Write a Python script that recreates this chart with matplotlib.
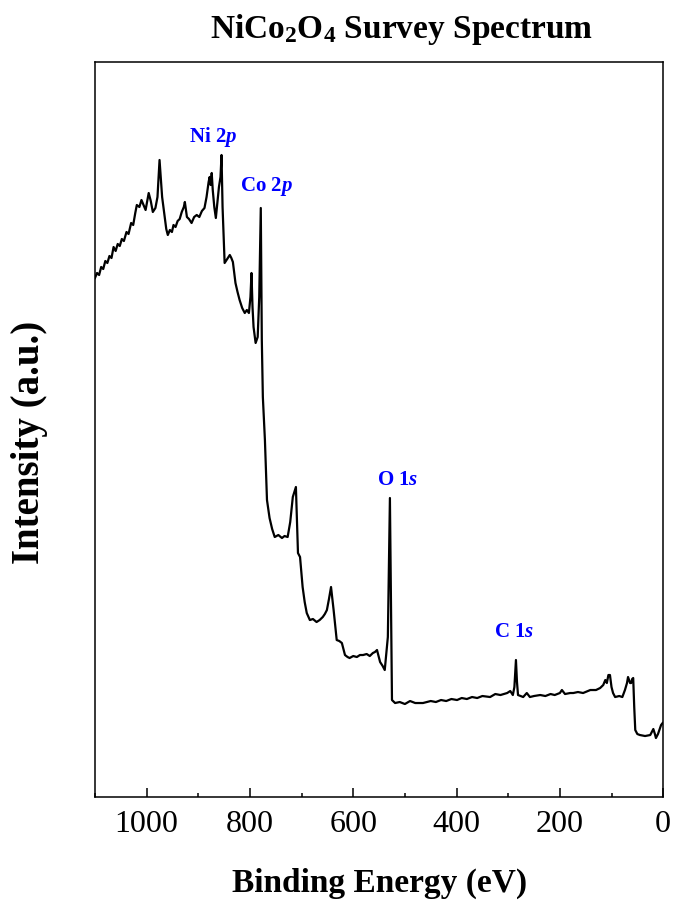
import matplotlib
matplotlib.use("Agg")
import matplotlib.pyplot as plt
from matplotlib.ticker import MultipleLocator

plt.rcParams["font.family"] = ["Liberation Serif", "DejaVu Serif"]
plt.rcParams["mathtext.fontset"] = "custom"
plt.rcParams["mathtext.rm"] = "Liberation Serif:bold"
plt.rcParams["mathtext.bf"] = "Liberation Serif:bold"
plt.rcParams["mathtext.it"] = "Liberation Serif:bold:italic"

# Survey spectrum: binding energy (eV) and intensity (a.u.)
binding_energy = [
    1100, 1096, 1092, 1088, 1084, 1080, 1076, 1072, 1068, 1064, 1060, 1056,
    1052, 1048, 1044, 1039, 1035, 1030, 1026, 1022, 1019, 1014, 1010, 1006,
    1002, 996, 992, 988, 983, 979, 975, 970, 965, 962, 959, 955, 951, 948,
    944, 940, 936, 932, 928, 926, 922, 918, 913, 908, 903, 898, 893, 888, 884,
    880, 878, 876, 874, 872, 869, 866, 863, 860, 857, 855, 853, 849, 844, 839,
    836, 833, 828, 824, 820, 815, 810, 806, 802, 799, 797, 795, 793, 789, 785,
    782, 779, 777, 775, 771, 767, 762, 757, 752, 745, 738, 733, 727, 722, 717,
    711, 707, 703, 698, 694, 690, 684, 678, 671, 665, 659, 655, 651, 647, 643,
    638, 632, 627, 622, 616, 611, 607, 600, 593, 587, 581, 574, 568, 562, 558,
    554, 548, 543, 539, 533, 529, 527, 525, 519, 510, 500, 490, 480, 465, 450,
    440, 430, 420, 410, 399, 390, 380, 370, 360, 350, 335, 325, 315, 302, 296,
    291, 288, 285, 283, 281, 276, 271, 264, 258, 250, 238, 228, 218, 210, 200,
    196, 190, 180, 174, 165, 155, 141, 130, 122, 116, 112, 109, 106, 103, 100,
    97, 93, 85, 79, 74, 70, 68, 64, 62, 60, 58, 56, 54, 50, 45, 35, 25, 21, 19,
    16, 14, 10, 4, 1,
]
intensity = [
    519, 524, 522, 530, 528, 536, 534, 541, 539, 550, 546, 553,
    551, 558, 556, 565, 563, 574, 572, 584, 592, 590, 597, 592,
    587, 604, 596, 585, 589, 600, 637, 600, 580, 568, 562, 567, 565, 572,
    570, 576, 578, 585, 590, 595, 580, 578, 574, 580, 582, 580, 586, 589, 600,
    615, 620, 612, 624, 607, 590, 579, 595, 610, 620, 642, 590, 534, 538, 542,
    539, 535, 514, 505, 497, 489, 484, 487, 484, 500, 524, 490, 470, 454, 460,
    500, 589, 457, 400, 357, 297, 279, 268, 260, 262, 259, 261, 260, 275, 300,
    310, 244, 240, 210, 195, 184, 177, 178, 175, 177, 180, 183, 187, 198, 210,
    187, 157, 156, 154, 142, 140, 139, 141, 140, 142, 142, 143, 141, 144, 145,
    147, 135, 131, 127, 160, 299, 194, 97, 94, 95, 93, 96, 94, 94, 96,
    95, 97, 96, 98, 97, 99, 98, 100, 99, 101, 100, 103, 102, 104, 106,
    102, 110, 137, 115, 102, 101, 100, 104, 100, 101, 102, 101, 103, 102, 104,
    107, 103, 104, 104, 105, 104, 107, 107, 109, 112, 117, 114, 122, 122, 110,
    104, 100, 101, 100, 107, 114, 120, 114, 114, 118, 119, 90, 67, 63, 62, 61,
    62, 66, 68, 63, 59, 63, 72, 74,
]

# Peak assignments: label text and its position (energy, height)
peak_labels = ["Ni 2$p$", "Co 2$p$", "O 1$s$", "C 1$s$"]
label_energy = [872, 767, 513, 289]
label_height = [660, 610, 317, 165]

fig = plt.figure(figsize=(6.76, 9.01), dpi=100)
ax = fig.add_axes([0.1405, 0.1154, 0.8405, 0.8158])

ax.plot(binding_energy, intensity, color="black", lw=1.6)

for lab, e, h in zip(peak_labels, label_energy, label_height):
    ax.text(e, h, lab, color="#0000ff", fontsize=15, fontweight="bold",
            ha="center", va="center")

ax.set_xlim(1100, 0)
ax.set_ylim(0, 735)
ax.set_yticks([])
ax.xaxis.set_major_locator(MultipleLocator(200))
ax.xaxis.set_minor_locator(MultipleLocator(100))
ax.tick_params(axis="x", which="major", direction="in", length=6.5, width=1.1,
               labelsize=23, pad=9)
ax.tick_params(axis="x", which="minor", direction="in", length=3, width=1.1)
for sp in ax.spines.values():
    sp.set_linewidth(1.1)

ax.set_xlabel("Binding Energy (eV)", fontsize=24, fontweight="bold", labelpad=21)
ax.set_ylabel("Intensity (a.u.)", fontsize=28, fontweight="bold")
ax.yaxis.set_label_coords(-0.083, 0.483)
ax.set_title("NiCo$_2$O$_4$ Survey Spectrum", fontsize=24, fontweight="bold",
             x=0.54, pad=17)

fig.savefig("out.png", dpi=100)
